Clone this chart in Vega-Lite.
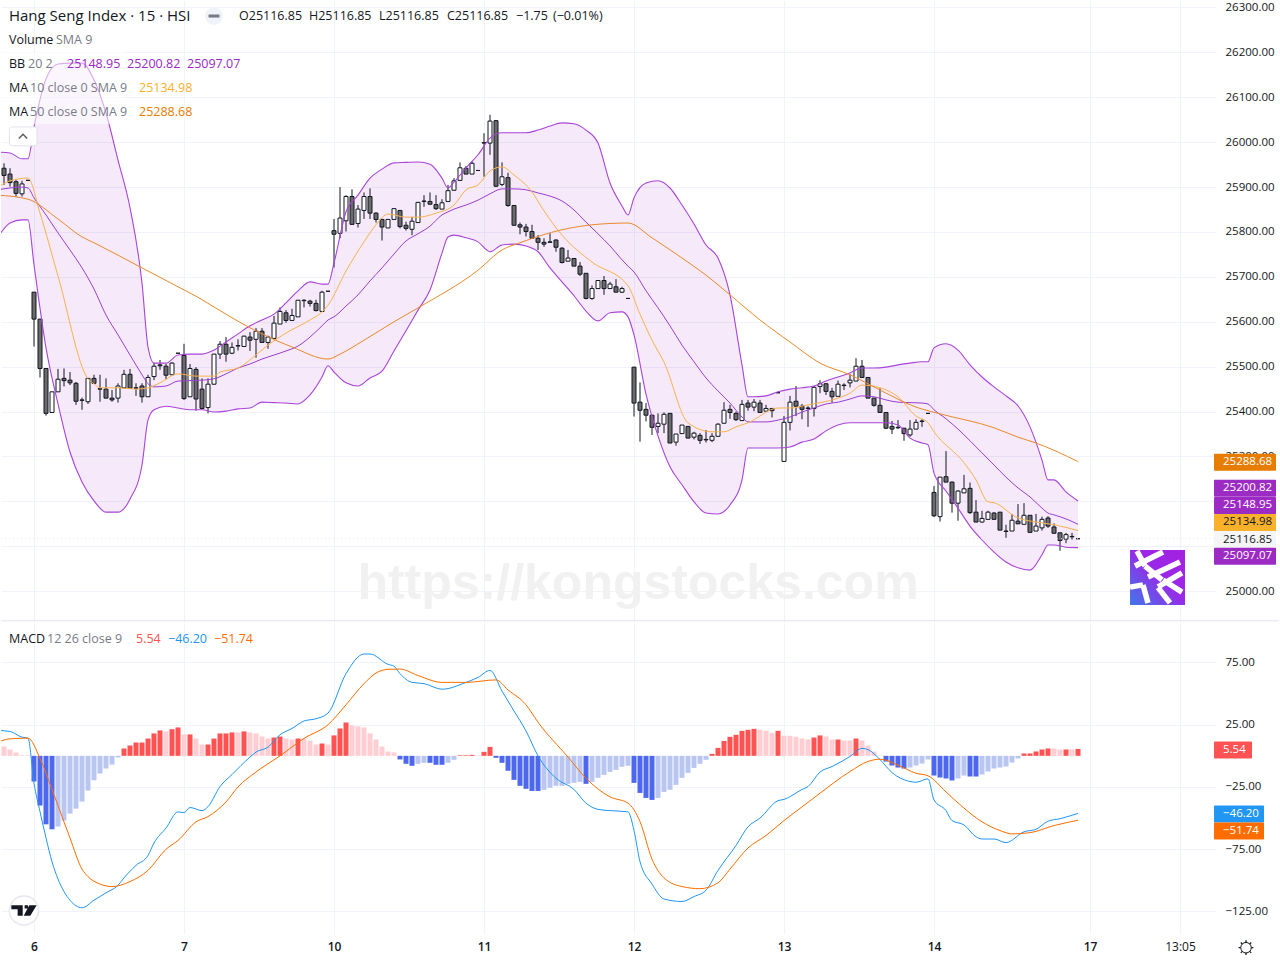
{
"$schema":"https://vega.github.io/schema/vega-lite/v6.json",
"padding":0,
"background":"#ffffff",
"spacing":1,
"resolve":{"scale":{"color":"independent"}},
"config":{"view":{"stroke":null},"scale":{"continuousPadding":0},"text":{"font":"Open Sans"},"axis":{"labelFont":"Open Sans","labelFontSize":11.5,"labelColor":"#131722","gridColor":"#f0f3fa","gridWidth":1,"domain":false,"ticks":false,"labelOverlap":false}},
"datasets":{
"candles":[
{"i":-5,"open":25942,"high":25953,"low":25905,"close":25926},{"i":-4,"open":25929,"high":25942,"low":25901,"close":25910},{"i":-3,"open":25912,"high":25916,"low":25879,"close":25886},{"i":-2,"open":25885,"high":25914,"low":25879,"close":25907},{"i":-1,"open":25915,"high":25915,"low":25915,"close":25915},
{"i":0,"open":25666,"high":25666,"low":25545,"close":25606},{"i":1,"open":25606,"high":25606,"low":25476,"close":25496},{"i":2,"open":25496,"high":25496,"low":25391,"close":25396},{"i":3,"open":25398,"high":25444,"low":25398,"close":25444},{"i":4,"open":25444,"high":25495,"low":25444,"close":25472},
{"i":5,"open":25474,"high":25496,"low":25456,"close":25469},{"i":6,"open":25470,"high":25488,"low":25459,"close":25464},{"i":7,"open":25463,"high":25466,"low":25415,"close":25423},{"i":8,"open":25426,"high":25431,"low":25404,"close":25425},{"i":9,"open":25422,"high":25474,"low":25417,"close":25474},
{"i":10,"open":25474,"high":25482,"low":25463,"close":25463},{"i":11,"open":25451,"high":25482,"low":25422,"close":25450},{"i":12,"open":25450,"high":25474,"low":25430,"close":25430},{"i":13,"open":25430,"high":25448,"low":25422,"close":25426},{"i":14,"open":25430,"high":25463,"low":25420,"close":25457},
{"i":15,"open":25453,"high":25493,"low":25453,"close":25483},{"i":16,"open":25483,"high":25495,"low":25452,"close":25452},{"i":17,"open":25453,"high":25463,"low":25435,"close":25452},{"i":18,"open":25457,"high":25463,"low":25420,"close":25433},{"i":19,"open":25433,"high":25482,"low":25433,"close":25476},
{"i":20,"open":25478,"high":25509,"low":25470,"close":25501},{"i":21,"open":25504,"high":25515,"low":25493,"close":25502},{"i":22,"open":25501,"high":25506,"low":25472,"close":25481},{"i":23,"open":25482,"high":25510,"low":25482,"close":25508},{"i":24,"open":25530,"high":25530,"low":25530,"close":25530},
{"i":25,"open":25525,"high":25551,"low":25426,"close":25429},{"i":26,"open":25433,"high":25506,"low":25433,"close":25496},{"i":27,"open":25494,"high":25499,"low":25402,"close":25428},{"i":28,"open":25450,"high":25474,"low":25405,"close":25407},{"i":29,"open":25409,"high":25474,"low":25396,"close":25461},
{"i":30,"open":25461,"high":25528,"low":25460,"close":25528},{"i":31,"open":25528,"high":25557,"low":25517,"close":25550},{"i":32,"open":25550,"high":25566,"low":25511,"close":25528},{"i":33,"open":25530,"high":25554,"low":25528,"close":25543},{"i":34,"open":25546,"high":25561,"low":25536,"close":25547},
{"i":35,"open":25545,"high":25569,"low":25545,"close":25568},{"i":36,"open":25566,"high":25577,"low":25535,"close":25559},{"i":37,"open":25561,"high":25586,"low":25520,"close":25579},{"i":38,"open":25579,"high":25586,"low":25554,"close":25554},{"i":39,"open":25554,"high":25569,"low":25540,"close":25566},
{"i":40,"open":25563,"high":25613,"low":25563,"close":25597},{"i":41,"open":25595,"high":25632,"low":25595,"close":25623},{"i":42,"open":25620,"high":25626,"low":25598,"close":25603},{"i":43,"open":25603,"high":25629,"low":25603,"close":25614},{"i":44,"open":25611,"high":25648,"low":25611,"close":25648},
{"i":45,"open":25647,"high":25650,"low":25632,"close":25648},{"i":46,"open":25646,"high":25649,"low":25634,"close":25641},{"i":47,"open":25641,"high":25649,"low":25623,"close":25625},{"i":48,"open":25623,"high":25669,"low":25623,"close":25666},{"i":49,"open":25668,"high":25668,"low":25668,"close":25668},
{"i":50,"open":25803,"high":25829,"low":25721,"close":25795},{"i":51,"open":25797,"high":25900,"low":25786,"close":25831},{"i":52,"open":25825,"high":25882,"low":25801,"close":25879},{"i":53,"open":25879,"high":25895,"low":25817,"close":25817},{"i":54,"open":25819,"high":25860,"low":25810,"close":25851},
{"i":55,"open":25848,"high":25888,"low":25829,"close":25879},{"i":56,"open":25879,"high":25897,"low":25829,"close":25842},{"i":57,"open":25842,"high":25844,"low":25821,"close":25828},{"i":58,"open":25828,"high":25828,"low":25781,"close":25811},{"i":59,"open":25809,"high":25828,"low":25809,"close":25828},
{"i":60,"open":25828,"high":25852,"low":25828,"close":25852},{"i":61,"open":25848,"high":25848,"low":25808,"close":25812},{"i":62,"open":25815,"high":25823,"low":25803,"close":25808},{"i":63,"open":25806,"high":25834,"low":25793,"close":25824},{"i":64,"open":25821,"high":25866,"low":25821,"close":25866},
{"i":65,"open":25868,"high":25882,"low":25856,"close":25869},{"i":66,"open":25868,"high":25888,"low":25860,"close":25862},{"i":67,"open":25861,"high":25882,"low":25849,"close":25852},{"i":68,"open":25851,"high":25873,"low":25851,"close":25865},{"i":69,"open":25868,"high":25905,"low":25868,"close":25892},
{"i":70,"open":25893,"high":25920,"low":25893,"close":25914},{"i":71,"open":25915,"high":25955,"low":25915,"close":25943},{"i":72,"open":25942,"high":25947,"low":25929,"close":25929},{"i":73,"open":25929,"high":25958,"low":25929,"close":25953},{"i":74,"open":25937,"high":25937,"low":25937,"close":25937},
{"i":75,"open":25998,"high":26020,"low":25923,"close":25999},{"i":76,"open":25998,"high":26061,"low":25972,"close":26047},{"i":77,"open":26048,"high":26048,"low":25900,"close":25902},{"i":78,"open":25906,"high":25955,"low":25902,"close":25923},{"i":79,"open":25921,"high":25932,"low":25856,"close":25859},
{"i":80,"open":25859,"high":25859,"low":25815,"close":25815},{"i":81,"open":25816,"high":25821,"low":25795,"close":25811},{"i":82,"open":25811,"high":25818,"low":25790,"close":25801},{"i":83,"open":25801,"high":25816,"low":25786,"close":25786},{"i":84,"open":25786,"high":25793,"low":25760,"close":25777},
{"i":85,"open":25777,"high":25786,"low":25767,"close":25773},{"i":86,"open":25778,"high":25797,"low":25776,"close":25777},{"i":87,"open":25782,"high":25784,"low":25756,"close":25766},{"i":88,"open":25764,"high":25766,"low":25730,"close":25732},{"i":89,"open":25735,"high":25760,"low":25735,"close":25742},
{"i":90,"open":25741,"high":25741,"low":25724,"close":25724},{"i":91,"open":25724,"high":25733,"low":25702,"close":25706},{"i":92,"open":25708,"high":25708,"low":25650,"close":25652},{"i":93,"open":25652,"high":25681,"low":25649,"close":25674},{"i":94,"open":25674,"high":25692,"low":25674,"close":25692},
{"i":95,"open":25692,"high":25702,"low":25660,"close":25674},{"i":96,"open":25674,"high":25689,"low":25674,"close":25684},{"i":97,"open":25678,"high":25695,"low":25666,"close":25666},{"i":98,"open":25666,"high":25678,"low":25664,"close":25674},{"i":99,"open":25652,"high":25652,"low":25652,"close":25652},
{"i":100,"open":25499,"high":25499,"low":25389,"close":25419},{"i":101,"open":25421,"high":25465,"low":25333,"close":25403},{"i":102,"open":25405,"high":25419,"low":25378,"close":25392},{"i":103,"open":25392,"high":25392,"low":25348,"close":25365},{"i":104,"open":25367,"high":25396,"low":25352,"close":25374},
{"i":105,"open":25372,"high":25398,"low":25352,"close":25394},{"i":106,"open":25396,"high":25396,"low":25330,"close":25330},{"i":107,"open":25332,"high":25350,"low":25324,"close":25350},{"i":108,"open":25351,"high":25370,"low":25351,"close":25370},{"i":109,"open":25367,"high":25367,"low":25341,"close":25341},
{"i":110,"open":25343,"high":25355,"low":25338,"close":25352},{"i":111,"open":25347,"high":25352,"low":25328,"close":25336},{"i":112,"open":25337,"high":25359,"low":25331,"close":25338},{"i":113,"open":25336,"high":25352,"low":25332,"close":25345},{"i":114,"open":25345,"high":25374,"low":25345,"close":25372},
{"i":115,"open":25374,"high":25421,"low":25374,"close":25403},{"i":116,"open":25405,"high":25415,"low":25384,"close":25398},{"i":117,"open":25396,"high":25400,"low":25379,"close":25382},{"i":118,"open":25380,"high":25426,"low":25380,"close":25416},{"i":119,"open":25419,"high":25426,"low":25402,"close":25410},
{"i":120,"open":25410,"high":25428,"low":25401,"close":25421},{"i":121,"open":25419,"high":25426,"low":25397,"close":25398},{"i":122,"open":25401,"high":25415,"low":25401,"close":25407},{"i":123,"open":25407,"high":25407,"low":25387,"close":25402},{"i":124,"open":25442,"high":25442,"low":25442,"close":25442},
{"i":125,"open":25289,"high":25390,"low":25289,"close":25376},{"i":126,"open":25376,"high":25435,"low":25358,"close":25421},{"i":127,"open":25423,"high":25457,"low":25390,"close":25412},{"i":128,"open":25412,"high":25417,"low":25383,"close":25405},{"i":129,"open":25407,"high":25412,"low":25366,"close":25408},
{"i":130,"open":25407,"high":25457,"low":25389,"close":25454},{"i":131,"open":25456,"high":25470,"low":25441,"close":25462},{"i":132,"open":25462,"high":25463,"low":25437,"close":25445},{"i":133,"open":25445,"high":25453,"low":25420,"close":25433},{"i":134,"open":25434,"high":25469,"low":25434,"close":25461},
{"i":135,"open":25458,"high":25463,"low":25448,"close":25459},{"i":136,"open":25464,"high":25483,"low":25454,"close":25470},{"i":137,"open":25468,"high":25519,"low":25468,"close":25501},{"i":138,"open":25501,"high":25515,"low":25476,"close":25476},{"i":139,"open":25476,"high":25476,"low":25430,"close":25430},
{"i":140,"open":25430,"high":25430,"low":25411,"close":25414},{"i":141,"open":25414,"high":25452,"low":25398,"close":25398},{"i":142,"open":25398,"high":25398,"low":25361,"close":25363},{"i":143,"open":25367,"high":25379,"low":25350,"close":25361},{"i":144,"open":25364,"high":25381,"low":25361,"close":25365},
{"i":145,"open":25363,"high":25363,"low":25335,"close":25351},{"i":146,"open":25348,"high":25381,"low":25344,"close":25361},{"i":147,"open":25361,"high":25383,"low":25361,"close":25376},{"i":148,"open":25378,"high":25383,"low":25366,"close":25379},{"i":149,"open":25396,"high":25396,"low":25396,"close":25396},
{"i":150,"open":25220,"high":25234,"low":25165,"close":25168},{"i":151,"open":25166,"high":25254,"low":25155,"close":25254},{"i":152,"open":25255,"high":25312,"low":25243,"close":25243},{"i":153,"open":25243,"high":25244,"low":25175,"close":25196},{"i":154,"open":25196,"high":25225,"low":25157,"close":25223},
{"i":155,"open":25219,"high":25259,"low":25219,"close":25228},{"i":156,"open":25229,"high":25242,"low":25172,"close":25175},{"i":157,"open":25176,"high":25203,"low":25154,"close":25154},{"i":158,"open":25154,"high":25179,"low":25153,"close":25162},{"i":159,"open":25160,"high":25179,"low":25160,"close":25176},
{"i":160,"open":25174,"high":25176,"low":25160,"close":25160},{"i":161,"open":25176,"high":25176,"low":25136,"close":25136},{"i":162,"open":25133,"high":25148,"low":25119,"close":25134},{"i":163,"open":25134,"high":25172,"low":25134,"close":25158},{"i":164,"open":25156,"high":25194,"low":25150,"close":25150},
{"i":165,"open":25149,"high":25196,"low":25149,"close":25169},{"i":166,"open":25169,"high":25169,"low":25131,"close":25131},{"i":167,"open":25134,"high":25172,"low":25134,"close":25145},{"i":168,"open":25141,"high":25166,"low":25135,"close":25160},{"i":169,"open":25163,"high":25167,"low":25141,"close":25145},
{"i":170,"open":25143,"high":25151,"low":25129,"close":25129},{"i":171,"open":25130,"high":25130,"low":25090,"close":25113},{"i":172,"open":25116,"high":25130,"low":25107,"close":25126},{"i":173,"open":25121,"high":25130,"low":25115,"close":25122},{"i":174,"open":25116.85,"high":25116.85,"low":25116.85,"close":25116.85}
],
"bands":[
{"i":-6,"upper":25978,"mid":25894,"lower":25789},{"i":-4,"upper":25976,"mid":25898,"lower":25820},{"i":-2,"upper":25963,"mid":25900,"lower":25827},{"i":-1,"upper":25963,"mid":25898,"lower":25827},{"i":0,"upper":26034,"mid":25876,"lower":25727},{"i":2,"upper":26141,"mid":25838,"lower":25542},{"i":4,"upper":26174,"mid":25798,"lower":25417},{"i":6,"upper":26176,"mid":25760,"lower":25310},{"i":8,"upper":26176,"mid":25720,"lower":25243},{"i":10,"upper":26139,"mid":25673,"lower":25201},{"i":12,"upper":26065,"mid":25615,"lower":25176},{"i":14,"upper":25960,"mid":25571,"lower":25176},{"i":16,"upper":25854,"mid":25526,"lower":25205},{"i":18,"upper":25686,"mid":25482,"lower":25281},{"i":19,"upper":25544,"mid":25462,"lower":25381},{"i":20,"upper":25508,"mid":25455,"lower":25404},{"i":22,"upper":25508,"mid":25457,"lower":25412},{"i":24,"upper":25526,"mid":25468,"lower":25408},{"i":26,"upper":25528,"mid":25469,"lower":25404},{"i":28,"upper":25528,"mid":25470,"lower":25404},{"i":30,"upper":25537,"mid":25473,"lower":25399},{"i":32,"upper":25555,"mid":25484,"lower":25401},{"i":34,"upper":25573,"mid":25497,"lower":25406},{"i":36,"upper":25591,"mid":25506,"lower":25408},{"i":38,"upper":25604,"mid":25517,"lower":25421},{"i":40,"upper":25617,"mid":25526,"lower":25420},{"i":42,"upper":25642,"mid":25535,"lower":25419},{"i":44,"upper":25669,"mid":25546,"lower":25417},{"i":46,"upper":25689,"mid":25566,"lower":25437},{"i":48,"upper":25684,"mid":25591,"lower":25477},{"i":49,"upper":25684,"mid":25604,"lower":25502},{"i":50,"upper":25731,"mid":25611,"lower":25488},{"i":52,"upper":25845,"mid":25635,"lower":25464},{"i":54,"upper":25882,"mid":25660,"lower":25457},{"i":56,"upper":25920,"mid":25691,"lower":25475},{"i":58,"upper":25940,"mid":25720,"lower":25490},{"i":60,"upper":25954,"mid":25751,"lower":25535},{"i":62,"upper":25955,"mid":25780,"lower":25580},{"i":64,"upper":25956,"mid":25796,"lower":25626},{"i":66,"upper":25951,"mid":25813,"lower":25671},{"i":68,"upper":25920,"mid":25838,"lower":25753},{"i":69,"upper":25898,"mid":25845,"lower":25789},{"i":70,"upper":25911,"mid":25851,"lower":25793},{"i":72,"upper":25943,"mid":25860,"lower":25787},{"i":74,"upper":25972,"mid":25871,"lower":25778},{"i":76,"upper":26009,"mid":25885,"lower":25756},{"i":78,"upper":26021,"mid":25896,"lower":25771},{"i":80,"upper":26021,"mid":25896,"lower":25773},{"i":82,"upper":26021,"mid":25894,"lower":25769},{"i":84,"upper":26027,"mid":25887,"lower":25756},{"i":86,"upper":26036,"mid":25880,"lower":25720},{"i":88,"upper":26043,"mid":25869,"lower":25689},{"i":90,"upper":26041,"mid":25849,"lower":25658},{"i":92,"upper":26027,"mid":25822,"lower":25624},{"i":94,"upper":25998,"mid":25796,"lower":25602},{"i":96,"upper":25909,"mid":25769,"lower":25620},{"i":98,"upper":25858,"mid":25738,"lower":25622},{"i":99,"upper":25838,"mid":25724,"lower":25611},{"i":100,"upper":25876,"mid":25711,"lower":25571},{"i":102,"upper":25909,"mid":25669,"lower":25439},{"i":104,"upper":25914,"mid":25631,"lower":25346},{"i":106,"upper":25898,"mid":25591,"lower":25277},{"i":108,"upper":25860,"mid":25548,"lower":25237},{"i":110,"upper":25818,"mid":25511,"lower":25199},{"i":112,"upper":25771,"mid":25475,"lower":25174},{"i":114,"upper":25742,"mid":25446,"lower":25172},{"i":116,"upper":25660,"mid":25419,"lower":25192},{"i":118,"upper":25504,"mid":25388,"lower":25248},{"i":119,"upper":25433,"mid":25377,"lower":25319},{"i":120,"upper":25433,"mid":25377,"lower":25319},{"i":122,"upper":25435,"mid":25377,"lower":25319},{"i":124,"upper":25444,"mid":25381,"lower":25319},{"i":126,"upper":25450,"mid":25388,"lower":25321},{"i":128,"upper":25453,"mid":25399,"lower":25332},{"i":130,"upper":25457,"mid":25408,"lower":25339},{"i":132,"upper":25468,"mid":25417,"lower":25357},{"i":134,"upper":25477,"mid":25421,"lower":25370},{"i":136,"upper":25486,"mid":25428,"lower":25375},{"i":138,"upper":25497,"mid":25435,"lower":25375},{"i":140,"upper":25497,"mid":25433,"lower":25375},{"i":142,"upper":25499,"mid":25426,"lower":25375},{"i":144,"upper":25504,"mid":25421,"lower":25370},{"i":146,"upper":25508,"mid":25420,"lower":25341},{"i":148,"upper":25511,"mid":25419,"lower":25330},{"i":149,"upper":25511,"mid":25417,"lower":25326},{"i":150,"upper":25542,"mid":25404,"lower":25263},{"i":152,"upper":25551,"mid":25384,"lower":25223},{"i":154,"upper":25537,"mid":25361,"lower":25185},{"i":156,"upper":25504,"mid":25335,"lower":25145},{"i":158,"upper":25477,"mid":25308,"lower":25114},{"i":160,"upper":25455,"mid":25281,"lower":25087},{"i":162,"upper":25435,"mid":25254,"lower":25065},{"i":164,"upper":25413,"mid":25230,"lower":25052},{"i":166,"upper":25366,"mid":25210,"lower":25047},{"i":168,"upper":25292,"mid":25185,"lower":25081},{"i":169,"upper":25248,"mid":25174,"lower":25103},{"i":170,"upper":25248,"mid":25170,"lower":25103},{"i":172,"upper":25221,"mid":25161,"lower":25098},{"i":174,"upper":25200.82,"mid":25148.95,"lower":25097.07}
],
"ma10":[
{"i":-6,"ma":25900},{"i":-4,"ma":25914},{"i":-1,"ma":25920},{"i":1,"ma":25842},{"i":4,"ma":25702},{"i":9,"ma":25473},{"i":10,"ma":25462},{"i":11,"ma":25453},{"i":14,"ma":25453},{"i":17,"ma":25450},{"i":19,"ma":25453},{"i":21,"ma":25464},{"i":24,"ma":25484},{"i":27,"ma":25479},{"i":30,"ma":25479},{"i":31,"ma":25488},{"i":34,"ma":25497},{"i":37,"ma":25526},{"i":39,"ma":25548},{"i":42,"ma":25575},{"i":46,"ma":25604},{"i":48,"ma":25622},{"i":49,"ma":25637},{"i":52,"ma":25713},{"i":55,"ma":25778},{"i":57,"ma":25816},{"i":59,"ma":25840},{"i":62,"ma":25833},{"i":64,"ma":25833},{"i":67,"ma":25842},{"i":70,"ma":25860},{"i":72,"ma":25894},{"i":74,"ma":25905},{"i":76,"ma":25936},{"i":78,"ma":25945},{"i":80,"ma":25927},{"i":83,"ma":25889},{"i":85,"ma":25847},{"i":88,"ma":25793},{"i":93,"ma":25733},{"i":99,"ma":25680},{"i":101,"ma":25617},{"i":103,"ma":25559},{"i":105,"ma":25510},{"i":109,"ma":25375},{"i":113,"ma":25355},{"i":115,"ma":25355},{"i":117,"ma":25366},{"i":119,"ma":25375},{"i":124,"ma":25408},{"i":126,"ma":25408},{"i":129,"ma":25415},{"i":134,"ma":25430},{"i":136,"ma":25441},{"i":138,"ma":25459},{"i":141,"ma":25453},{"i":144,"ma":25433},{"i":147,"ma":25390},{"i":149,"ma":25375},{"i":150,"ma":25355},{"i":155,"ma":25286},{"i":157,"ma":25248},{"i":159,"ma":25199},{"i":160,"ma":25197},{"i":164,"ma":25163},{"i":167,"ma":25154},{"i":170,"ma":25148},{"i":174,"ma":25134.98}
],
"ma50":[
{"i":-6,"ma":25882},{"i":-1,"ma":25873},{"i":4,"ma":25829},{"i":8,"ma":25789},{"i":10,"ma":25776},{"i":18,"ma":25720},{"i":25,"ma":25671},{"i":27,"ma":25657},{"i":30,"ma":25633},{"i":33,"ma":25609},{"i":38,"ma":25573},{"i":43,"ma":25544},{"i":49,"ma":25517},{"i":51,"ma":25528},{"i":55,"ma":25559},{"i":60,"ma":25600},{"i":64,"ma":25631},{"i":74,"ma":25715},{"i":78,"ma":25760},{"i":81,"ma":25776},{"i":88,"ma":25805},{"i":93,"ma":25816},{"i":99,"ma":25820},{"i":103,"ma":25787},{"i":108,"ma":25742},{"i":112,"ma":25704},{"i":116,"ma":25660},{"i":121,"ma":25604},{"i":126,"ma":25555},{"i":131,"ma":25508},{"i":136,"ma":25482},{"i":141,"ma":25448},{"i":147,"ma":25410},{"i":151,"ma":25395},{"i":160,"ma":25364},{"i":164,"ma":25343},{"i":167,"ma":25330},{"i":174,"ma":25288.68}
],
"hist":[
{"i":-6,"hist":10,"m":"w"},{"i":-5,"hist":7.5,"m":"w"},{"i":-4,"hist":5.1,"m":"w"},{"i":-3,"hist":2.7,"m":"w"},{"i":-2,"hist":0.5,"m":"w"},{"i":-1,"hist":0.5,"m":"w"},
{"i":0,"hist":-20.6,"m":"s"},{"i":1,"hist":-39.9,"m":"s"},{"i":2,"hist":-55,"m":"s"},{"i":3,"hist":-59,"m":"s"},{"i":4,"hist":-56.8,"m":"w"},{"i":5,"hist":-52,"m":"w"},{"i":6,"hist":-46.4,"m":"w"},{"i":7,"hist":-42.4,"m":"w"},{"i":8,"hist":-36.7,"m":"w"},{"i":9,"hist":-27.9,"m":"w"},{"i":10,"hist":-19.6,"m":"w"},{"i":11,"hist":-14.2,"m":"w"},{"i":12,"hist":-10.2,"m":"w"},{"i":13,"hist":-7,"m":"w"},{"i":14,"hist":-1.3,"m":"w"},
{"i":15,"hist":5.9,"m":"s"},{"i":16,"hist":8.3,"m":"s"},{"i":17,"hist":10.7,"m":"s"},{"i":18,"hist":10.7,"m":"s"},{"i":19,"hist":13.9,"m":"s"},{"i":20,"hist":18,"m":"s"},{"i":21,"hist":20.4,"m":"s"},{"i":22,"hist":19.6,"m":"w"},{"i":23,"hist":21.4,"m":"s"},{"i":24,"hist":22.8,"m":"s"},{"i":25,"hist":17.2,"m":"w"},{"i":26,"hist":17.2,"m":"s"},{"i":27,"hist":13.9,"m":"w"},{"i":28,"hist":9.1,"m":"w"},{"i":29,"hist":9.1,"m":"s"},{"i":30,"hist":13.9,"m":"s"},{"i":31,"hist":18,"m":"s"},{"i":32,"hist":18,"m":"s"},{"i":33,"hist":18.8,"m":"s"},{"i":34,"hist":18.8,"m":"w"},{"i":35,"hist":19.6,"m":"s"},{"i":36,"hist":18.8,"m":"w"},{"i":37,"hist":18,"m":"w"},{"i":38,"hist":15.5,"m":"w"},{"i":39,"hist":13.9,"m":"w"},{"i":40,"hist":14.7,"m":"s"},{"i":41,"hist":15.5,"m":"s"},{"i":42,"hist":13.9,"m":"w"},{"i":43,"hist":13.1,"m":"w"},{"i":44,"hist":13.9,"m":"s"},{"i":45,"hist":13.9,"m":"w"},{"i":46,"hist":12.3,"m":"w"},{"i":47,"hist":9.1,"m":"w"},{"i":48,"hist":9.9,"m":"s"},{"i":49,"hist":9.1,"m":"w"},{"i":50,"hist":16.4,"m":"s"},{"i":51,"hist":22,"m":"s"},{"i":52,"hist":26.8,"m":"s"},{"i":53,"hist":24.4,"m":"w"},{"i":54,"hist":23.6,"m":"w"},{"i":55,"hist":22.8,"m":"w"},{"i":56,"hist":18,"m":"w"},{"i":57,"hist":13.1,"m":"w"},{"i":58,"hist":7.5,"m":"w"},{"i":59,"hist":3.5,"m":"w"},{"i":60,"hist":2.7,"m":"w"},
{"i":61,"hist":-2.9,"m":"s"},{"i":62,"hist":-6.4,"m":"s"},{"i":63,"hist":-8,"m":"s"},{"i":64,"hist":-6.4,"m":"w"},{"i":65,"hist":-5.6,"m":"w"},{"i":66,"hist":-5.6,"m":"s"},{"i":67,"hist":-7.2,"m":"s"},{"i":68,"hist":-7.2,"m":"s"},{"i":69,"hist":-5.6,"m":"w"},{"i":70,"hist":-3.2,"m":"w"},{"i":71,"hist":0.5,"m":"s"},{"i":72,"hist":0.5,"m":"s"},{"i":73,"hist":0.8,"m":"s"},{"i":74,"hist":0.3,"m":"w"},{"i":75,"hist":3.2,"m":"s"},{"i":76,"hist":7.2,"m":"s"},
{"i":77,"hist":-1.6,"m":"s"},{"i":78,"hist":-5.6,"m":"s"},{"i":79,"hist":-12,"m":"s"},{"i":80,"hist":-19.3,"m":"s"},{"i":81,"hist":-24.1,"m":"s"},{"i":82,"hist":-26.5,"m":"s"},{"i":83,"hist":-28.2,"m":"s"},{"i":84,"hist":-28.2,"m":"s"},{"i":85,"hist":-27.3,"m":"w"},{"i":86,"hist":-25.7,"m":"w"},{"i":87,"hist":-24.1,"m":"w"},{"i":88,"hist":-24.1,"m":"w"},{"i":89,"hist":-22.5,"m":"w"},{"i":90,"hist":-21.7,"m":"w"},{"i":91,"hist":-20.9,"m":"w"},{"i":92,"hist":-22.5,"m":"s"},{"i":93,"hist":-20.9,"m":"w"},{"i":94,"hist":-17.7,"m":"w"},{"i":95,"hist":-15.3,"m":"w"},{"i":96,"hist":-12.9,"m":"w"},{"i":97,"hist":-11.3,"m":"w"},{"i":98,"hist":-8.8,"m":"w"},{"i":99,"hist":-8,"m":"w"},{"i":100,"hist":-21.7,"m":"s"},{"i":101,"hist":-29.8,"m":"s"},{"i":102,"hist":-33.8,"m":"s"},{"i":103,"hist":-35.4,"m":"s"},{"i":104,"hist":-33.8,"m":"w"},{"i":105,"hist":-29,"m":"w"},{"i":106,"hist":-27.3,"m":"w"},{"i":107,"hist":-23.3,"m":"w"},{"i":108,"hist":-17.7,"m":"w"},{"i":109,"hist":-13.7,"m":"w"},{"i":110,"hist":-9.7,"m":"w"},{"i":111,"hist":-6.4,"m":"w"},{"i":112,"hist":-3.2,"m":"w"},
{"i":113,"hist":1.6,"m":"s"},{"i":114,"hist":6.4,"m":"s"},{"i":115,"hist":12,"m":"s"},{"i":116,"hist":15.3,"m":"s"},{"i":117,"hist":16.9,"m":"s"},{"i":118,"hist":20.1,"m":"s"},{"i":119,"hist":20.9,"m":"s"},{"i":120,"hist":21.7,"m":"s"},{"i":121,"hist":20.9,"m":"w"},{"i":122,"hist":20.1,"m":"w"},{"i":123,"hist":18.5,"m":"w"},{"i":124,"hist":20.1,"m":"s"},{"i":125,"hist":16.1,"m":"w"},{"i":126,"hist":16.1,"m":"w"},{"i":127,"hist":15.3,"m":"w"},{"i":128,"hist":13.9,"m":"w"},{"i":129,"hist":13.1,"m":"w"},{"i":130,"hist":14.7,"m":"s"},{"i":131,"hist":16.4,"m":"s"},{"i":132,"hist":15.5,"m":"w"},{"i":133,"hist":13.1,"m":"w"},{"i":134,"hist":13.1,"m":"s"},{"i":135,"hist":12.3,"m":"w"},{"i":136,"hist":12.3,"m":"w"},{"i":137,"hist":13.9,"m":"s"},{"i":138,"hist":12.3,"m":"w"},{"i":139,"hist":8.3,"m":"w"},{"i":140,"hist":3.5,"m":"w"},{"i":141,"hist":0.3,"m":"w"},
{"i":142,"hist":-4.6,"m":"s"},{"i":143,"hist":-7.8,"m":"s"},{"i":144,"hist":-9.4,"m":"s"},{"i":145,"hist":-10.2,"m":"s"},{"i":146,"hist":-9.4,"m":"w"},{"i":147,"hist":-7.8,"m":"w"},{"i":148,"hist":-6.2,"m":"w"},{"i":149,"hist":-2.9,"m":"w"},{"i":150,"hist":-15.8,"m":"s"},{"i":151,"hist":-17.4,"m":"s"},{"i":152,"hist":-18.2,"m":"s"},{"i":153,"hist":-19.8,"m":"s"},{"i":154,"hist":-18.2,"m":"w"},{"i":155,"hist":-15.8,"m":"w"},{"i":156,"hist":-16.6,"m":"s"},{"i":157,"hist":-16.6,"m":"s"},{"i":158,"hist":-15,"m":"w"},{"i":159,"hist":-12.6,"m":"w"},{"i":160,"hist":-10.2,"m":"w"},{"i":161,"hist":-9.4,"m":"w"},{"i":162,"hist":-8.6,"m":"w"},{"i":163,"hist":-5.4,"m":"w"},{"i":164,"hist":-2.1,"m":"w"},
{"i":165,"hist":1.9,"m":"s"},{"i":166,"hist":1.9,"m":"s"},{"i":167,"hist":3.5,"m":"s"},{"i":168,"hist":5.1,"m":"s"},{"i":169,"hist":5.9,"m":"s"},{"i":170,"hist":5.9,"m":"w"},{"i":171,"hist":5.1,"m":"w"},{"i":172,"hist":5.1,"m":"s"},{"i":173,"hist":5.1,"m":"w"},{"i":174,"hist":5.54,"m":"s"}
],
"macd":[
{"i":-6,"v":20.4},{"i":-4,"v":19.6},{"i":-2,"v":15},{"i":-1,"v":14.2},{"i":0,"v":-22},{"i":1,"v":-44.8},{"i":2,"v":-66},{"i":3,"v":-85},{"i":4,"v":-99},{"i":5,"v":-109},{"i":6,"v":-116},{"i":8,"v":-122},{"i":10,"v":-116},{"i":12,"v":-110},{"i":14,"v":-104},{"i":15,"v":-98},{"i":17,"v":-88},{"i":19,"v":-80},{"i":20,"v":-70},{"i":22,"v":-58},{"i":24,"v":-45},{"i":25,"v":-45.6},{"i":26,"v":-41.5},{"i":28,"v":-44},{"i":29,"v":-40.8},{"i":31,"v":-24.7},{"i":33,"v":-15},{"i":36,"v":-1},{"i":37,"v":3},{"i":39,"v":7},{"i":41,"v":16.9},{"i":43,"v":22},{"i":45,"v":28},{"i":47,"v":29.8},{"i":49,"v":34.3},{"i":52,"v":66},{"i":55,"v":81.8},{"i":56,"v":81.8},{"i":59,"v":73.5},{"i":60,"v":72},{"i":61,"v":66},{"i":63,"v":59},{"i":65,"v":58},{"i":68,"v":53.5},{"i":72,"v":59},{"i":74,"v":63},{"i":76,"v":68.6},{"i":78,"v":52},{"i":80,"v":36},{"i":82,"v":20},{"i":84,"v":0},{"i":87,"v":-18},{"i":90,"v":-27},{"i":92,"v":-38},{"i":94,"v":-43},{"i":96,"v":-44},{"i":99,"v":-45},{"i":100,"v":-60},{"i":101,"v":-85},{"i":103,"v":-103},{"i":105,"v":-115},{"i":108,"v":-117},{"i":110,"v":-113},{"i":112,"v":-108},{"i":114,"v":-92},{"i":117,"v":-72},{"i":119,"v":-57},{"i":121,"v":-50},{"i":124,"v":-36},{"i":125,"v":-35},{"i":128,"v":-27},{"i":129,"v":-24.7},{"i":131,"v":-13},{"i":133,"v":-8.6},{"i":136,"v":-0.5},{"i":138,"v":6},{"i":139,"v":5},{"i":141,"v":-3},{"i":143,"v":-13.4},{"i":146,"v":-20.6},{"i":147,"v":-21.2},{"i":149,"v":-18.5},{"i":150,"v":-35.4},{"i":152,"v":-44},{"i":153,"v":-52},{"i":155,"v":-55.5},{"i":157,"v":-65},{"i":158,"v":-66.8},{"i":160,"v":-66.8},{"i":162,"v":-69.7},{"i":165,"v":-61},{"i":167,"v":-59},{"i":169,"v":-52.5},{"i":171,"v":-50.5},{"i":174,"v":-46.2}
],
"signal":[
{"i":-6,"v":11},{"i":-4,"v":13.7},{"i":-1,"v":14.2},{"i":1,"v":-2},{"i":3,"v":-27},{"i":4,"v":-40},{"i":6,"v":-66},{"i":8,"v":-91},{"i":9,"v":-97},{"i":11,"v":-103},{"i":13,"v":-105},{"i":16,"v":-101},{"i":19,"v":-92},{"i":22,"v":-75},{"i":24,"v":-68},{"i":27,"v":-53},{"i":29,"v":-48.8},{"i":32,"v":-37},{"i":34,"v":-25},{"i":37,"v":-13},{"i":41,"v":0},{"i":45,"v":14},{"i":49,"v":25},{"i":52,"v":41},{"i":55,"v":58},{"i":57,"v":66.5},{"i":59,"v":69.5},{"i":61,"v":69.7},{"i":64,"v":64.5},{"i":68,"v":59},{"i":72,"v":59},{"i":77,"v":61},{"i":79,"v":53},{"i":82,"v":41},{"i":84,"v":27},{"i":89,"v":-1},{"i":92,"v":-18},{"i":96,"v":-33},{"i":99,"v":-38},{"i":101,"v":-52.8},{"i":103,"v":-83},{"i":105,"v":-98},{"i":108,"v":-105},{"i":111,"v":-106.7},{"i":114,"v":-102},{"i":116,"v":-91},{"i":119,"v":-74},{"i":122,"v":-64},{"i":125,"v":-52},{"i":128,"v":-41},{"i":131,"v":-30},{"i":136,"v":-12.6},{"i":139,"v":-4.5},{"i":141,"v":-2.7},{"i":144,"v":-7.5},{"i":147,"v":-14},{"i":149,"v":-16},{"i":152,"v":-29},{"i":155,"v":-42},{"i":158,"v":-53},{"i":161,"v":-60},{"i":163,"v":-62.7},{"i":166,"v":-61.7},{"i":170,"v":-56},{"i":174,"v":-51.74}
],
"priceTags":[{"pos":25287,"series":"ma50","label":"25288.68","a":196.67,"b":207,"t":198.17},{"pos":25229,"series":"bb","label":"25200.82","a":196.67,"b":207,"t":198.17},{"pos":25191,"series":"bb","label":"25148.95","a":196.67,"b":207,"t":198.17},{"pos":25153,"series":"ma10","label":"25134.98","a":196.67,"b":207,"t":198.17},{"pos":25115,"series":"last","label":"25116.85","a":196.67,"b":207,"t":198.17},{"pos":25078,"series":"bb","label":"25097.07","a":196.67,"b":207,"t":198.17}],
"macdTags":[{"pos":4.7,"series":"hist","label":"5.54","a":196.67,"b":203,"t":198.17},{"pos":-46.8,"series":"macd","label":"−46.20","a":196.67,"b":205,"t":198.17},{"pos":-60.4,"series":"signal","label":"−51.74","a":196.67,"b":205,"t":198.17}]
},
"vconcat":[
{
"width":1215,"height":621,
"encoding":{"x":{"field":"i","type":"quantitative","title":null,"scale":{"domain":[-5.5,197],"nice":false,"zero":false},"axis":{"values":[0,25,50,75,100,125,150,176,191],"grid":true,"labels":false}}},
"layer":[
{"data":{"values":[{"i":100.67,"y":25016,"text":"https://kongstocks.com"}]},"mark":{"type":"text","align":"center","baseline":"middle","font":"Liberation Sans","fontWeight":"bold","fontSize":50,"color":"#f1f1f1"},"encoding":{"text":{"field":"text"},"y":{"field":"y","type":"quantitative","title":null,"scale":{"domain":[24933.6,26316.7],"nice":false,"zero":false},"axis":{"orient":"right","values":[25000,25100,25200,25300,25400,25500,25600,25700,25800,25900,26000,26100,26200,26300],"format":".2f","grid":true,"labelAlign":"left","labelPadding":9,"labelOverlap":false}}}},
{"data":{"name":"bands"},"mark":{"type":"area","color":"#9b27d0","opacity":0.1,"clip":true,"interpolate":"monotone"},"encoding":{"y":{"field":"upper","type":"quantitative","title":null,"axis":{"orient":"right"},"scale":{"domain":[24933.6,26316.7],"nice":false,"zero":false}},"y2":{"field":"lower"}}},
{"data":{"name":"candles"},"mark":{"type":"rule","color":"#131722","strokeWidth":1},"encoding":{"y":{"field":"low","type":"quantitative","title":null,"axis":{"orient":"right"},"scale":{"domain":[24933.6,26316.7],"nice":false,"zero":false}},"y2":{"field":"high"}}},
{"data":{"name":"candles"},"mark":{"type":"bar","size":4,"stroke":"#131722","strokeWidth":1},"encoding":{"y":{"field":"open","type":"quantitative","title":null,"axis":{"orient":"right"},"scale":{"domain":[24933.6,26316.7],"nice":false,"zero":false}},"y2":{"field":"close"},"color":{"condition":{"test":"datum.close>=datum.open","value":"#ffffff"},"value":"#6b6b6b"}}},
{"data":{"name":"bands"},"mark":{"type":"line","color":"#a844d8","strokeWidth":1.1,"clip":true,"interpolate":"monotone"},"encoding":{"y":{"field":"upper","type":"quantitative","title":null,"axis":{"orient":"right"},"scale":{"domain":[24933.6,26316.7],"nice":false,"zero":false}}}},
{"data":{"name":"bands"},"mark":{"type":"line","color":"#a844d8","strokeWidth":1.1,"clip":true,"interpolate":"monotone"},"encoding":{"y":{"field":"lower","type":"quantitative","title":null,"axis":{"orient":"right"},"scale":{"domain":[24933.6,26316.7],"nice":false,"zero":false}}}},
{"data":{"name":"bands"},"mark":{"type":"line","color":"#9c3fd0","strokeWidth":1,"clip":true,"interpolate":"monotone"},"encoding":{"y":{"field":"mid","type":"quantitative","title":null,"axis":{"orient":"right"},"scale":{"domain":[24933.6,26316.7],"nice":false,"zero":false}}}},
{"data":{"name":"ma10"},"mark":{"type":"line","color":"#f9b24e","strokeWidth":1,"clip":true,"interpolate":"monotone"},"encoding":{"y":{"field":"ma","type":"quantitative","title":null,"axis":{"orient":"right"},"scale":{"domain":[24933.6,26316.7],"nice":false,"zero":false}}}},
{"data":{"name":"ma50"},"mark":{"type":"line","color":"#ea8a2a","strokeWidth":1,"clip":true,"interpolate":"monotone"},"encoding":{"y":{"field":"ma","type":"quantitative","title":null,"axis":{"orient":"right"},"scale":{"domain":[24933.6,26316.7],"nice":false,"zero":false}}}},
{"data":{"values":[{"a":182.67,"b":191.83,"top":25092,"bottom":24969}]},"mark":{"type":"rect","color":{"gradient":"linear","x1":0,"y1":1,"x2":1,"y2":0,"stops":[{"offset":0,"color":"#3f78e8"},{"offset":0.55,"color":"#9a28e8"},{"offset":1,"color":"#a51fe0"}]}},"encoding":{"x":{"field":"a","type":"quantitative","title":null,"scale":{"domain":[-5.5,197],"nice":false,"zero":false}},"x2":{"field":"b"},"y":{"field":"top","type":"quantitative","title":null,"axis":{"orient":"right"},"scale":{"domain":[24933.6,26316.7],"nice":false,"zero":false}},"y2":{"field":"bottom"}}},
{"data":{"values":[{"a":183.83,"b":185.17,"p":25089.6,"q":25056},{"a":183.5,"b":188.17,"p":25056,"q":25087.4},{"a":185.17,"b":188,"p":25056,"q":25025},{"a":185.67,"b":191,"p":25031.7,"q":25065},{"a":188.17,"b":191.33,"p":25025,"q":24998},{"a":187.33,"b":191.33,"p":25009.4,"q":25040.6},{"a":182.67,"b":184.83,"p":25009,"q":25014},{"a":184.83,"b":185.67,"p":25014,"q":24973.8},{"a":187.33,"b":189.33,"p":25008,"q":24974}]},"mark":{"type":"rule","color":"#ffffff","strokeWidth":5.5},"encoding":{"x":{"field":"a","type":"quantitative","title":null,"scale":{"domain":[-5.5,197],"nice":false,"zero":false}},"x2":{"field":"b"},"y":{"field":"p","type":"quantitative","title":null,"axis":{"orient":"right"},"scale":{"domain":[24933.6,26316.7],"nice":false,"zero":false}},"y2":{"field":"q"}}},
{"data":{"values":[{"a":-5.5,"b":15,"top":26201,"bottom":26040}]},"mark":{"type":"rect","color":"#ffffff","opacity":0.55},"encoding":{"x":{"field":"a","type":"quantitative","title":null,"scale":{"domain":[-5.5,197],"nice":false,"zero":false}},"x2":{"field":"b"},"y":{"field":"top","type":"quantitative","title":null,"axis":{"orient":"right"},"scale":{"domain":[24933.6,26316.7],"nice":false,"zero":false}},"y2":{"field":"bottom"}}},
{"data":{"values":[{"a":-4.1,"b":0.5,"top":26034,"bottom":25992}]},"mark":{"type":"rect","color":"#ffffff","stroke":"#e0e3eb","strokeWidth":1,"cornerRadius":3},"encoding":{"x":{"field":"a","type":"quantitative","title":null,"scale":{"domain":[-5.5,197],"nice":false,"zero":false}},"x2":{"field":"b"},"y":{"field":"top","type":"quantitative","title":null,"axis":{"orient":"right"},"scale":{"domain":[24933.6,26316.7],"nice":false,"zero":false}},"y2":{"field":"bottom"}}},
{"data":{"values":[{"i":-1.83,"y":26013,"name":"collapse"}]},"mark":{"type":"point","shape":"M-1 .5 L0 -.5 L1 .5","stroke":"#131722","strokeWidth":1.5,"size":70,"filled":false},"encoding":{"y":{"field":"y","type":"quantitative","title":null,"axis":{"orient":"right"},"scale":{"domain":[24933.6,26316.7],"nice":false,"zero":false}}}},
{"data":{"values":[{"i":30,"y":26281,"name":"circle"}]},"mark":{"type":"point","shape":"circle","filled":true,"color":"#f0f3fa","size":320,"opacity":1},"encoding":{"y":{"field":"y","type":"quantitative","title":null,"axis":{"orient":"right"},"scale":{"domain":[24933.6,26316.7],"nice":false,"zero":false}}}},
{"data":{"values":[{"i":30,"y":26281,"name":"pill"}]},"mark":{"type":"point","shape":"M-1 -.28 H1 V.28 H-1 Z","filled":true,"color":"#787b86","size":120,"opacity":1},"encoding":{"y":{"field":"y","type":"quantitative","title":null,"axis":{"orient":"right"},"scale":{"domain":[24933.6,26316.7],"nice":false,"zero":false}}}},
{"data":{"values":[{"i":-4.17,"y":26281,"text":"Hang Seng Index · 15 · HSI"}]},"mark":{"type":"text","align":"left","baseline":"middle","fontSize":15,"color":"#131722"},"encoding":{"text":{"field":"text"},"y":{"field":"y","type":"quantitative","title":null,"axis":{"orient":"right"},"scale":{"domain":[24933.6,26316.7],"nice":false,"zero":false}}}},
{"data":{"values":[
{"i":34.17,"y":26281,"text":"O25116.85","role":"name"},{"i":45.83,"y":26281,"text":"H25116.85","role":"name"},{"i":57.5,"y":26281,"text":"L25116.85","role":"name"},{"i":68.83,"y":26281,"text":"C25116.85","role":"name"},{"i":80.33,"y":26281,"text":"−1.75","role":"name"},{"i":86.5,"y":26281,"text":"(−0.01%)","role":"name"},
{"i":-4.17,"y":26228,"text":"Volume","role":"name"},{"i":3.67,"y":26228,"text":"SMA 9","role":"param"},
{"i":-4.17,"y":26174,"text":"BB","role":"name"},{"i":-1,"y":26174,"text":"20 2","role":"param"},{"i":5.5,"y":26174,"text":"25148.95","role":"bb"},{"i":15.5,"y":26174,"text":"25200.82","role":"bb"},{"i":25.5,"y":26174,"text":"25097.07","role":"bb"},
{"i":-4.17,"y":26121,"text":"MA","role":"name"},{"i":-0.67,"y":26121,"text":"10 close 0 SMA 9","role":"param"},{"i":17.5,"y":26121,"text":"25134.98","role":"ma10"},
{"i":-4.17,"y":26067,"text":"MA","role":"name"},{"i":-0.67,"y":26067,"text":"50 close 0 SMA 9","role":"param"},{"i":17.5,"y":26067,"text":"25288.68","role":"ma50"}
]},"mark":{"type":"text","align":"left","baseline":"middle","fontSize":12.5},"encoding":{"text":{"field":"text"},"y":{"field":"y","type":"quantitative","title":null,"axis":{"orient":"right"},"scale":{"domain":[24933.6,26316.7],"nice":false,"zero":false}},"color":{"field":"role","type":"nominal","legend":null,"scale":{"domain":["name","param","bb","ma10","ma50"],"range":["#131722","#787b86","#9c27c9","#f9b12b","#e67c00"]}}}},
{"data":{"values":[{"y":25116.85,"a":-5.5,"b":196.7}]},"mark":{"type":"rule","color":"#e6e7ec","strokeDash":[1,3],"strokeWidth":1},"encoding":{"x":{"field":"a","type":"quantitative","title":null,"scale":{"domain":[-5.5,197],"nice":false,"zero":false}},"x2":{"field":"b"},"y":{"field":"y","type":"quantitative","title":null,"axis":{"orient":"right"},"scale":{"domain":[24933.6,26316.7],"nice":false,"zero":false}}}},
{"data":{"name":"priceTags"},"mark":{"type":"rect","height":17,"cornerRadius":1},"encoding":{"x":{"field":"a","type":"quantitative","title":null,"scale":{"domain":[-5.5,197],"nice":false,"zero":false}},"x2":{"field":"b"},"y":{"field":"pos","type":"quantitative","title":null,"axis":{"orient":"right"},"scale":{"domain":[24933.6,26316.7],"nice":false,"zero":false}},"color":{"condition":[{"test":"datum.series=='ma50'","value":"#e67c00"},{"test":"datum.series=='bb'","value":"#9c2bc4"},{"test":"datum.series=='ma10'","value":"#f9b12b"}],"value":"#f5f5f5"}}},
{"data":{"name":"priceTags"},"mark":{"type":"text","align":"left","baseline":"middle","fontSize":11.5},"encoding":{"x":{"field":"t","type":"quantitative","title":null,"scale":{"domain":[-5.5,197],"nice":false,"zero":false}},"y":{"field":"pos","type":"quantitative","title":null,"axis":{"orient":"right"},"scale":{"domain":[24933.6,26316.7],"nice":false,"zero":false}},"text":{"field":"label"},"color":{"condition":{"test":"datum.series=='ma10'||datum.series=='last'","value":"#131722"},"value":"#ffffff"}}},
{"data":{"values":[{"y":24934,"a":-5.5,"b":207.5}]},"mark":{"type":"rule","color":"#e0e3eb","strokeWidth":1},"encoding":{"x":{"field":"a","type":"quantitative","title":null,"scale":{"domain":[-5.5,197],"nice":false,"zero":false}},"x2":{"field":"b"},"y":{"field":"y","type":"quantitative","title":null,"axis":{"orient":"right"},"scale":{"domain":[24933.6,26316.7],"nice":false,"zero":false}}}}
]
},
{
"width":1215,"height":310,
"encoding":{"x":{"field":"i","type":"quantitative","title":null,"scale":{"domain":[-5.5,197],"nice":false,"zero":false},"axis":{"values":[0,25,50,75,100,125,150,176,191],"grid":true,"labelPadding":8,"labelFontSize":12,"labelExpr":"datum.value==0?'6':datum.value==25?'7':datum.value==50?'10':datum.value==75?'11':datum.value==100?'12':datum.value==125?'13':datum.value==150?'14':datum.value==176?'17':'13:05'","labelFontWeight":{"expr":"datum.value==191?'normal':'600'"}}}},
"layer":[
{"data":{"name":"hist"},"mark":{"type":"bar","size":5,"clip":true},"encoding":{"y":{"field":"hist","type":"quantitative","title":null,"scale":{"domain":[-142.3,106.7],"nice":false,"zero":false},"axis":{"orient":"right","values":[-125,-100,-75,-50,-25,0,25,50,75,100],"format":".2f","grid":true,"labelAlign":"left","labelPadding":9,"labelOverlap":false}},"y2":{"datum":0},"color":{"condition":[{"test":"datum.hist>=0&&datum.m=='s'","value":"#ff5252"},{"test":"datum.hist>=0","value":"#ffcdd2"},{"test":"datum.m=='s'","value":"#4d68ee"}],"value":"#b9c6f2"}}},
{"data":{"name":"macd"},"mark":{"type":"line","color":"#2196f3","strokeWidth":1,"clip":true,"interpolate":"monotone"},"encoding":{"y":{"field":"v","type":"quantitative","title":null,"axis":{"orient":"right"},"scale":{"domain":[-142.3,106.7],"nice":false,"zero":false}}}},
{"data":{"name":"signal"},"mark":{"type":"line","color":"#ff6d00","strokeWidth":1,"clip":true,"interpolate":"monotone"},"encoding":{"y":{"field":"v","type":"quantitative","title":null,"axis":{"orient":"right"},"scale":{"domain":[-142.3,106.7],"nice":false,"zero":false}}}},
{"data":{"values":[
{"i":-4.17,"y":93.5,"text":"MACD","role":"name"},{"i":2.17,"y":93.5,"text":"12 26 close 9","role":"param"},{"i":17,"y":93.5,"text":"5.54","role":"hist"},{"i":22.33,"y":93.5,"text":"−46.20","role":"macd"},{"i":30,"y":93.5,"text":"−51.74","role":"signal"}
]},"mark":{"type":"text","align":"left","baseline":"middle","fontSize":12.5},"encoding":{"text":{"field":"text"},"y":{"field":"y","type":"quantitative","title":null,"axis":{"orient":"right"},"scale":{"domain":[-142.3,106.7],"nice":false,"zero":false}},"color":{"field":"role","type":"nominal","legend":null,"scale":{"domain":["name","param","hist","macd","signal"],"range":["#131722","#787b86","#ff5252","#2196f3","#ff6d00"]}}}},
{"data":{"name":"macdTags"},"mark":{"type":"rect","height":17,"cornerRadius":1},"encoding":{"x":{"field":"a","type":"quantitative","title":null,"scale":{"domain":[-5.5,197],"nice":false,"zero":false}},"x2":{"field":"b"},"y":{"field":"pos","type":"quantitative","title":null,"axis":{"orient":"right"},"scale":{"domain":[-142.3,106.7],"nice":false,"zero":false}},"color":{"condition":[{"test":"datum.series=='hist'","value":"#ff5252"},{"test":"datum.series=='macd'","value":"#2196f3"}],"value":"#ff6d00"}}},
{"data":{"name":"macdTags"},"mark":{"type":"text","align":"left","baseline":"middle","fontSize":11.5,"color":"#ffffff"},"encoding":{"x":{"field":"t","type":"quantitative","title":null,"scale":{"domain":[-5.5,197],"nice":false,"zero":false}},"y":{"field":"pos","type":"quantitative","title":null,"axis":{"orient":"right"},"scale":{"domain":[-142.3,106.7],"nice":false,"zero":false}},"text":{"field":"label"}}},
{"data":{"values":[{"i":-1.67,"y":-124.2,"name":"badge"}]},"mark":{"type":"point","shape":"circle","filled":true,"color":"#ffffff","stroke":"#e6e8ee","strokeWidth":1.5,"size":850,"opacity":1},"encoding":{"y":{"field":"y","type":"quantitative","title":null,"axis":{"orient":"right"},"scale":{"domain":[-142.3,106.7],"nice":false,"zero":false}}}},
{"data":{"values":[{"i":-1.67,"y":-124.2,"name":"tv"}]},"mark":{"type":"point","shape":"M-1 -.42 H-.1 V.42 H-.5 V-.1 H-1 Z M.05 -.42 H.32 V-.15 H.05 Z M.42 -.42 H1 L.5 .42 H-.02 Z","filled":true,"color":"#131722","size":640,"opacity":1},"encoding":{"y":{"field":"y","type":"quantitative","title":null,"axis":{"orient":"right"},"scale":{"domain":[-142.3,106.7],"nice":false,"zero":false}}}},
{"data":{"values":[{"i":202,"y":-154.1,"name":"gear"}]},"mark":{"type":"point","shape":"circle","filled":false,"color":"#131722","strokeWidth":1,"size":110,"opacity":1},"encoding":{"y":{"field":"y","type":"quantitative","title":null,"axis":{"orient":"right"},"scale":{"domain":[-142.3,106.7],"nice":false,"zero":false}}}},
{"data":{"values":[{"i":202,"y":-154.1,"name":"gear teeth"}]},"mark":{"type":"point","shape":"M0 -1 V-.72 M0 1 V.72 M-1 0 H-.72 M1 0 H.72 M-.7 -.7 L-.5 -.5 M.7 .7 L.5 .5 M-.7 .7 L-.5 .5 M.7 -.7 L.5 -.5","filled":false,"color":"#131722","strokeWidth":1.3,"size":220,"opacity":1},"encoding":{"y":{"field":"y","type":"quantitative","title":null,"axis":{"orient":"right"},"scale":{"domain":[-142.3,106.7],"nice":false,"zero":false}}}}
]
}
]
}
